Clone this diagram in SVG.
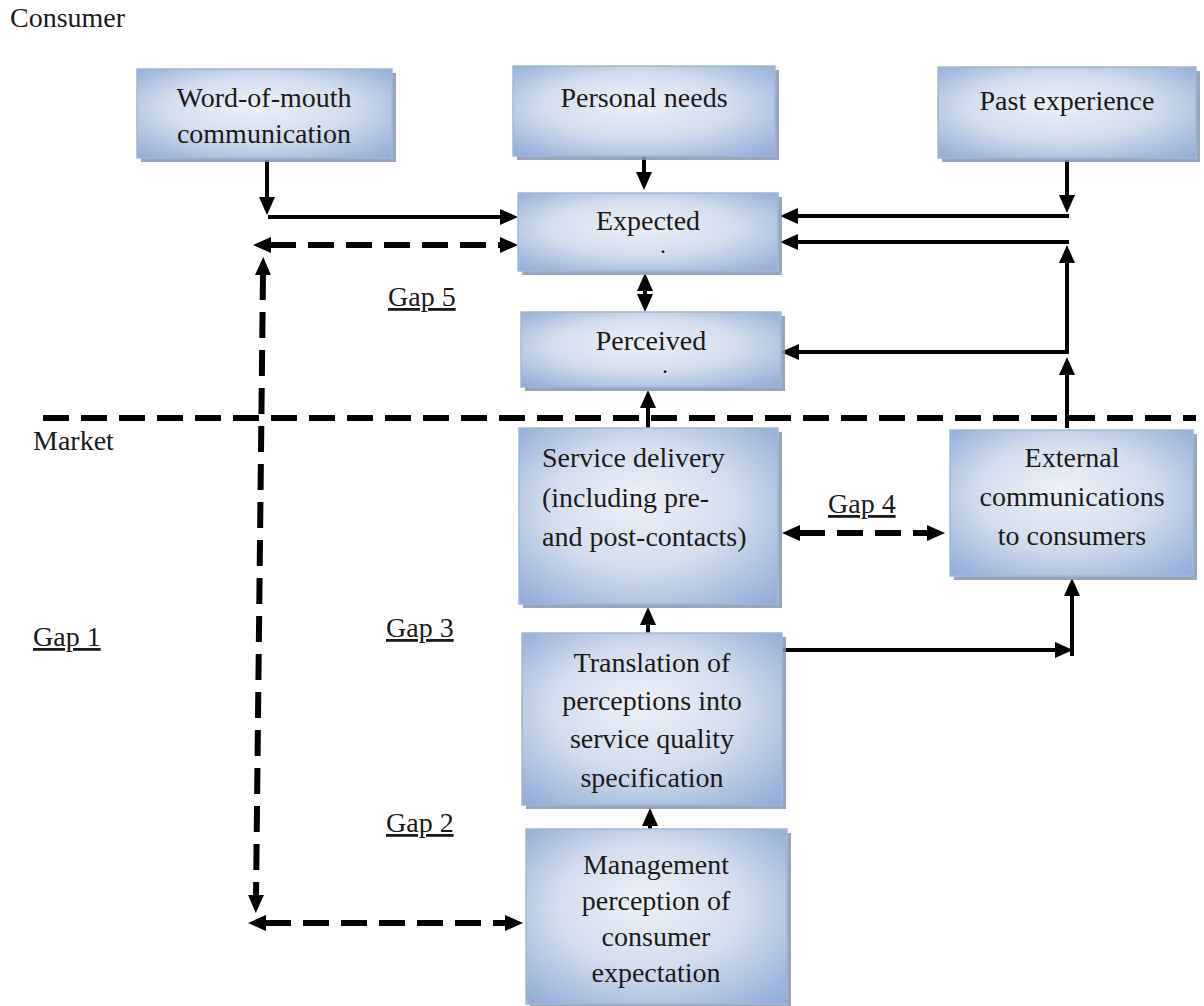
<svg xmlns="http://www.w3.org/2000/svg" width="1204" height="1006" viewBox="0 0 1204 1006">
<defs>
<radialGradient id="g" cx="50%" cy="48%" r="72%" fx="45%" fy="40%">
<stop offset="0" stop-color="#edf1f8"/>
<stop offset="0.5" stop-color="#d2ddee"/>
<stop offset="1" stop-color="#8eaad6"/>
</radialGradient>
<marker id="ah" viewBox="0 0 18 16" refX="1" refY="8" markerWidth="18" markerHeight="16" orient="auto-start-reverse" markerUnits="userSpaceOnUse">
<path d="M0,0 L18,8 L0,16 z" fill="#000"/>
</marker>
<style>
.sh{fill:#8596b2;opacity:.85}
.bx{fill:url(#g);stroke:#a3b6d6;stroke-width:1.5}
text{font-family:"Liberation Serif","Times New Roman",serif;font-size:28px;fill:#1a1a1a}
.m{text-anchor:middle}
.u{text-decoration:underline}
.dot{font-size:16px;font-weight:bold;fill:#000}
.c{fill:none;stroke:#000;stroke-width:4}
.d{fill:none;stroke:#000;stroke-width:6;stroke-dasharray:26 12}
.a{marker-end:url(#ah)}
.b{marker-start:url(#ah);marker-end:url(#ah)}
</style>
</defs>
<rect width="1204" height="1006" fill="#fff"/>

<g id="labels">
<text x="10" y="27">Consumer</text>
<text x="33" y="450">Market</text>
<text x="388" y="306" class="u">Gap 5</text>
<text x="33" y="646" class="u">Gap 1</text>
<text x="386" y="637" class="u">Gap 3</text>
<text x="386" y="832" class="u">Gap 2</text>
<text x="828" y="513" class="u">Gap 4</text>
</g>

<g id="connectors">
<path class="d" d="M43,418 H1196"/>
<path class="c a" d="M267,160 V198"/>
<path class="c a" d="M268,217 H501"/>
<path class="c a" d="M644,157 V173"/>
<path class="c b" d="M645,290 V295"/>
<path class="c a" d="M1067,160 V196"/>
<path class="c a" d="M1069,216 H797"/>
<path class="c a" d="M1069,242 H797"/>
<path class="c a" d="M1067,352 V262"/>
<path class="c a" d="M1069,352 H798"/>
<path class="c a" d="M1067,428 V374"/>
<path class="c a" d="M648,428 V407"/>
<path class="c a" d="M648,633 V624"/>
<path class="c a" d="M650,829 V825"/>
<path class="c a" d="M782,650 H1056"/>
<path class="c a" d="M1072,656 V595"/>
<path class="d b" d="M270,245 H501"/>
<path class="d b" d="M263,274 L256,896"/>
<path class="d b" d="M265,923 H506"/>
<path class="d b" d="M799,533 H928"/>
</g>

<g id="wom">
<rect class="sh" x="141" y="73" width="255" height="89"/>
<rect class="bx" x="137" y="69" width="255" height="89"/>
<text class="m" x="264" y="107">Word-of-mouth</text>
<text class="m" x="264" y="143">communication</text>
</g>
<g id="personal">
<rect class="sh" x="517" y="70" width="262" height="90"/>
<rect class="bx" x="513" y="66" width="262" height="90"/>
<text class="m" x="644" y="107">Personal needs</text>
</g>
<g id="past">
<rect class="sh" x="942" y="71" width="258" height="91"/>
<rect class="bx" x="938" y="67" width="258" height="91"/>
<text class="m" x="1067" y="110">Past experience</text>
</g>
<g id="expected">
<rect class="sh" x="522" y="197" width="260" height="78"/>
<rect class="bx" x="518" y="193" width="260" height="78"/>
<text class="m" x="648" y="230">Expected</text>
<text class="m dot" x="663" y="253">.</text>
</g>
<g id="perceived">
<rect class="sh" x="525" y="316" width="260" height="75"/>
<rect class="bx" x="521" y="312" width="260" height="75"/>
<text class="m" x="651" y="350">Perceived</text>
<text class="m dot" x="665" y="373">.</text>
</g>
<g id="delivery">
<rect class="sh" x="523" y="432" width="259" height="176"/>
<rect class="bx" x="519" y="428" width="259" height="176"/>
<text x="542" y="467">Service delivery</text>
<text x="542" y="507">(including pre-</text>
<text x="542" y="546">and post-contacts)</text>
</g>
<g id="external">
<rect class="sh" x="954" y="434" width="243" height="146"/>
<rect class="bx" x="950" y="430" width="243" height="146"/>
<text class="m" x="1072" y="467">External</text>
<text class="m" x="1072" y="506">communications</text>
<text class="m" x="1072" y="545">to consumers</text>
</g>
<g id="translation">
<rect class="sh" x="526" y="637" width="260" height="172"/>
<rect class="bx" x="522" y="633" width="260" height="172"/>
<text class="m" x="652" y="672">Translation of</text>
<text class="m" x="652" y="710">perceptions into</text>
<text class="m" x="652" y="748">service quality</text>
<text class="m" x="652" y="787">specification</text>
</g>
<g id="management">
<rect class="sh" x="530" y="833" width="261" height="175"/>
<rect class="bx" x="526" y="829" width="261" height="175"/>
<text class="m" x="656" y="874">Management</text>
<text class="m" x="656" y="910">perception of</text>
<text class="m" x="656" y="946">consumer</text>
<text class="m" x="656" y="982">expectation</text>
</g>
</svg>
